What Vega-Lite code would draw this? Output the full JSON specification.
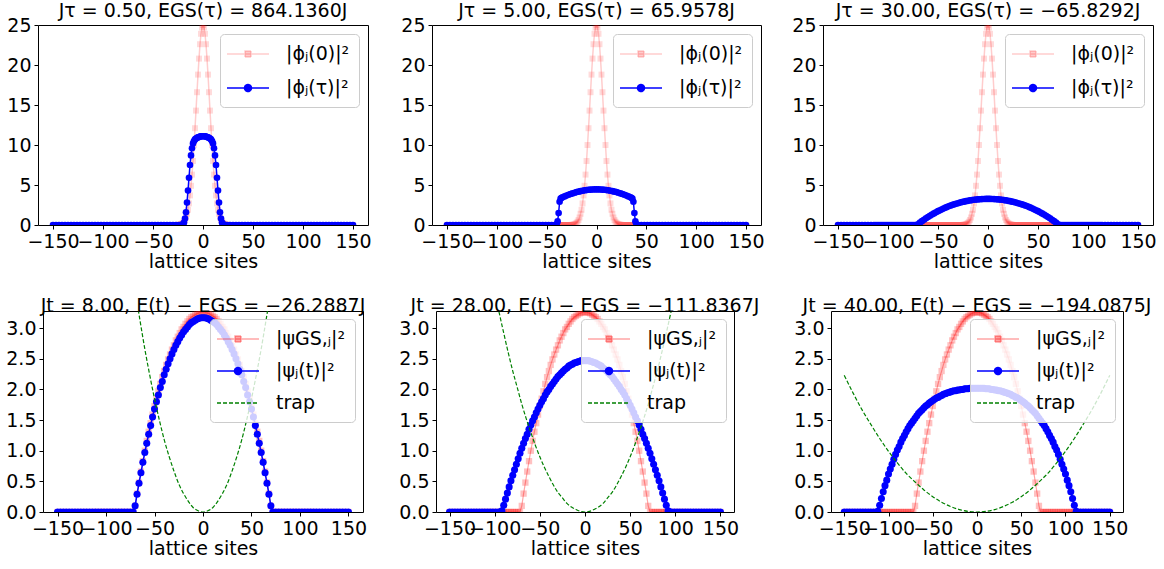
{
"$schema":"https://vega.github.io/schema/vega-lite/v6.json",
"padding":{"left":5,"top":1,"right":0,"bottom":0},
"background":"white",
"config":{
"font":"DejaVu Sans",
"view":{"stroke":"black","strokeWidth":1},
"axis":{"domain":false,"grid":false,"tickColor":"black","tickSize":4,"tickWidth":1,"labelFont":"DejaVu Sans","labelFontSize":19,"labelColor":"black","labelPadding":3,"labelOverlap":false,"labelFlush":false,"labelBound":false,"titleFont":"DejaVu Sans","titleFontSize":19,"titleFontWeight":"normal","titleColor":"black","titlePadding":1},
"title":{"font":"DejaVu Sans","fontSize":19,"fontWeight":"normal","color":"black","offset":-5,"frame":"group","anchor":"middle"}
},
"datasets":{
"phi0":[{"x":-150,"y":0},{"x":-145,"y":0},{"x":-140,"y":0},{"x":-135,"y":0},{"x":-130,"y":0},{"x":-125,"y":0},{"x":-120,"y":0},{"x":-115,"y":0},{"x":-110,"y":0},{"x":-105,"y":0},{"x":-100,"y":0},{"x":-95,"y":0},{"x":-90,"y":0},{"x":-85,"y":0},{"x":-80,"y":0},{"x":-75,"y":0},
{"x":-72,"y":0},{"x":-71,"y":0},{"x":-70,"y":0},{"x":-69,"y":0},{"x":-68,"y":0},{"x":-67,"y":0},{"x":-66,"y":0},{"x":-65,"y":0},{"x":-64,"y":0},{"x":-63,"y":0},{"x":-62,"y":0},{"x":-61,"y":0},{"x":-60,"y":0},{"x":-59,"y":0},{"x":-58,"y":0},{"x":-57,"y":0},{"x":-56,"y":0},{"x":-55,"y":0},{"x":-54,"y":0},{"x":-53,"y":0},{"x":-52,"y":0},{"x":-51,"y":0},{"x":-50,"y":0},{"x":-49,"y":0},{"x":-48,"y":0},{"x":-47,"y":0},{"x":-46,"y":0},{"x":-45,"y":0},{"x":-44,"y":0},{"x":-43,"y":0},{"x":-42,"y":0},{"x":-41,"y":0},{"x":-40,"y":0},{"x":-39,"y":0},{"x":-38,"y":0},{"x":-37,"y":0},{"x":-36,"y":0},{"x":-35,"y":0},{"x":-34,"y":0},{"x":-33,"y":0},{"x":-32,"y":0},{"x":-31,"y":0},{"x":-30,"y":0},{"x":-29,"y":0},{"x":-28,"y":0},{"x":-27,"y":0},{"x":-26,"y":0},
{"x":-25,"y":0.02},{"x":-24,"y":0.04},{"x":-23,"y":0.06},{"x":-22,"y":0.1},{"x":-21,"y":0.17},{"x":-20,"y":0.27},{"x":-19,"y":0.41},{"x":-18,"y":0.63},{"x":-17,"y":0.94},{"x":-16,"y":1.4},{"x":-15,"y":1.9},{"x":-14,"y":2.7},{"x":-13,"y":3.7},{"x":-12,"y":4.9},{"x":-11,"y":6.3},{"x":-10,"y":8},{"x":-9,"y":10},{"x":-8,"y":12.1},{"x":-7,"y":14.3},{"x":-6,"y":16.6},{"x":-5,"y":18.8},{"x":-4,"y":20.8},{"x":-3,"y":22.6},{"x":-2,"y":23.9},{"x":-1,"y":24.7},{"x":0,"y":25},
{"x":1,"y":24.7},{"x":2,"y":23.9},{"x":3,"y":22.6},{"x":4,"y":20.8},{"x":5,"y":18.8},{"x":6,"y":16.6},{"x":7,"y":14.3},{"x":8,"y":12.1},{"x":9,"y":10},{"x":10,"y":8},{"x":11,"y":6.3},{"x":12,"y":4.9},{"x":13,"y":3.7},{"x":14,"y":2.7},{"x":15,"y":1.9},{"x":16,"y":1.4},{"x":17,"y":0.94},{"x":18,"y":0.63},{"x":19,"y":0.41},{"x":20,"y":0.27},{"x":21,"y":0.17},{"x":22,"y":0.1},{"x":23,"y":0.06},{"x":24,"y":0.04},{"x":25,"y":0.02},
{"x":26,"y":0},{"x":27,"y":0},{"x":28,"y":0},{"x":29,"y":0},{"x":30,"y":0},{"x":31,"y":0},{"x":32,"y":0},{"x":33,"y":0},{"x":34,"y":0},{"x":35,"y":0},{"x":36,"y":0},{"x":37,"y":0},{"x":38,"y":0},{"x":39,"y":0},{"x":40,"y":0},{"x":41,"y":0},{"x":42,"y":0},{"x":43,"y":0},{"x":44,"y":0},{"x":45,"y":0},{"x":46,"y":0},{"x":47,"y":0},{"x":48,"y":0},{"x":49,"y":0},{"x":50,"y":0},{"x":51,"y":0},{"x":52,"y":0},{"x":53,"y":0},{"x":54,"y":0},{"x":55,"y":0},{"x":56,"y":0},{"x":57,"y":0},{"x":58,"y":0},{"x":59,"y":0},{"x":60,"y":0},{"x":61,"y":0},{"x":62,"y":0},{"x":63,"y":0},{"x":64,"y":0},{"x":65,"y":0},{"x":66,"y":0},{"x":67,"y":0},{"x":68,"y":0},{"x":69,"y":0},{"x":70,"y":0},{"x":71,"y":0},{"x":72,"y":0},
{"x":75,"y":0},{"x":80,"y":0},{"x":85,"y":0},{"x":90,"y":0},{"x":95,"y":0},{"x":100,"y":0},{"x":105,"y":0},{"x":110,"y":0},{"x":115,"y":0},{"x":120,"y":0},{"x":125,"y":0},{"x":130,"y":0},{"x":135,"y":0},{"x":140,"y":0},{"x":145,"y":0},{"x":150,"y":0}],
"gs":[{"x":-150,"y":0},{"x":-147,"y":0},{"x":-144,"y":0},{"x":-141,"y":0},{"x":-138,"y":0},{"x":-135,"y":0},{"x":-132,"y":0},{"x":-129,"y":0},{"x":-126,"y":0},{"x":-123,"y":0},{"x":-120,"y":0},{"x":-117,"y":0},
{"x":-114,"y":0},{"x":-112,"y":0},{"x":-110,"y":0},{"x":-108,"y":0},{"x":-106,"y":0},{"x":-104,"y":0},{"x":-102,"y":0},{"x":-100,"y":0},{"x":-98,"y":0},{"x":-96,"y":0},{"x":-94,"y":0},{"x":-92,"y":0},{"x":-90,"y":0},{"x":-88,"y":0},{"x":-86,"y":0},{"x":-84,"y":0},{"x":-82,"y":0},{"x":-80,"y":0},{"x":-78,"y":0},{"x":-76,"y":0},{"x":-74,"y":0},{"x":-72,"y":0},
{"x":-70,"y":0.1},{"x":-68,"y":0.3},{"x":-66,"y":0.48},{"x":-64,"y":0.66},{"x":-62,"y":0.83},{"x":-60,"y":1},{"x":-58,"y":1.16},{"x":-56,"y":1.31},{"x":-54,"y":1.45},{"x":-52,"y":1.59},{"x":-50,"y":1.73},{"x":-48,"y":1.85},{"x":-46,"y":1.97},{"x":-44,"y":2.09},{"x":-42,"y":2.2},{"x":-40,"y":2.3},{"x":-38,"y":2.4},{"x":-36,"y":2.49},{"x":-34,"y":2.57},{"x":-32,"y":2.65},{"x":-30,"y":2.72},{"x":-28,"y":2.8},{"x":-26,"y":2.86},{"x":-24,"y":2.92},{"x":-22,"y":2.98},{"x":-20,"y":3.02},{"x":-18,"y":3.07},{"x":-16,"y":3.11},{"x":-14,"y":3.15},{"x":-12,"y":3.18},{"x":-10,"y":3.2},{"x":-8,"y":3.22},{"x":-6,"y":3.24},{"x":-4,"y":3.25},{"x":-2,"y":3.26},{"x":0,"y":3.26},
{"x":2,"y":3.26},{"x":4,"y":3.25},{"x":6,"y":3.24},{"x":8,"y":3.22},{"x":10,"y":3.2},{"x":12,"y":3.18},{"x":14,"y":3.15},{"x":16,"y":3.11},{"x":18,"y":3.07},{"x":20,"y":3.02},{"x":22,"y":2.98},{"x":24,"y":2.92},{"x":26,"y":2.86},{"x":28,"y":2.8},{"x":30,"y":2.72},{"x":32,"y":2.65},{"x":34,"y":2.57},{"x":36,"y":2.49},{"x":38,"y":2.4},{"x":40,"y":2.3},{"x":42,"y":2.2},{"x":44,"y":2.09},{"x":46,"y":1.97},{"x":48,"y":1.85},{"x":50,"y":1.73},{"x":52,"y":1.59},{"x":54,"y":1.45},{"x":56,"y":1.31},{"x":58,"y":1.16},{"x":60,"y":1},{"x":62,"y":0.83},{"x":64,"y":0.66},{"x":66,"y":0.48},{"x":68,"y":0.3},{"x":70,"y":0.1},
{"x":72,"y":0},{"x":74,"y":0},{"x":76,"y":0},{"x":78,"y":0},{"x":80,"y":0},{"x":82,"y":0},{"x":84,"y":0},{"x":86,"y":0},{"x":88,"y":0},{"x":90,"y":0},{"x":92,"y":0},{"x":94,"y":0},{"x":96,"y":0},{"x":98,"y":0},{"x":100,"y":0},{"x":102,"y":0},{"x":104,"y":0},{"x":106,"y":0},{"x":108,"y":0},{"x":110,"y":0},{"x":112,"y":0},{"x":114,"y":0},
{"x":117,"y":0},{"x":120,"y":0},{"x":123,"y":0},{"x":126,"y":0},{"x":129,"y":0},{"x":132,"y":0},{"x":135,"y":0},{"x":138,"y":0},{"x":141,"y":0},{"x":144,"y":0},{"x":147,"y":0},{"x":150,"y":0}],
"b1":[{"x":-150,"y":0},{"x":-147,"y":0},{"x":-144,"y":0},{"x":-141,"y":0},{"x":-138,"y":0},{"x":-135,"y":0},{"x":-132,"y":0},{"x":-129,"y":0},{"x":-126,"y":0},{"x":-123,"y":0},{"x":-120,"y":0},{"x":-117,"y":0},{"x":-114,"y":0},{"x":-111,"y":0},{"x":-108,"y":0},{"x":-105,"y":0},{"x":-102,"y":0},{"x":-99,"y":0},{"x":-96,"y":0},{"x":-93,"y":0},{"x":-90,"y":0},{"x":-87,"y":0},{"x":-84,"y":0},{"x":-81,"y":0},{"x":-78,"y":0},{"x":-75,"y":0},{"x":-72,"y":0},{"x":-69,"y":0},{"x":-66,"y":0},{"x":-63,"y":0},{"x":-60,"y":0},{"x":-57,"y":0},{"x":-54,"y":0},{"x":-51,"y":0},{"x":-48,"y":0},{"x":-45,"y":0},{"x":-42,"y":0},{"x":-39,"y":0},{"x":-36,"y":0},{"x":-33,"y":0},{"x":-30,"y":0},{"x":-27,"y":0},{"x":-24,"y":0},
{"x":-22,"y":0},{"x":-21,"y":0.02},{"x":-20,"y":0.1},{"x":-19,"y":0.3},{"x":-18,"y":0.8},{"x":-17,"y":1.6},{"x":-16,"y":2.8},{"x":-15,"y":4.3},{"x":-14,"y":5.9},{"x":-13,"y":7.5},{"x":-12,"y":8.7},{"x":-11,"y":9.6},{"x":-10,"y":10.2},{"x":-9,"y":10.5},{"x":-8,"y":10.7},{"x":-7,"y":10.8},{"x":-6,"y":10.9},{"x":-5,"y":10.95},{"x":-4,"y":11},{"x":-3,"y":11.05},{"x":-2,"y":11.08},{"x":-1,"y":11.1},{"x":0,"y":11.1},
{"x":1,"y":11.1},{"x":2,"y":11.08},{"x":3,"y":11.05},{"x":4,"y":11},{"x":5,"y":10.95},{"x":6,"y":10.9},{"x":7,"y":10.8},{"x":8,"y":10.7},{"x":9,"y":10.5},{"x":10,"y":10.2},{"x":11,"y":9.6},{"x":12,"y":8.7},{"x":13,"y":7.5},{"x":14,"y":5.9},{"x":15,"y":4.3},{"x":16,"y":2.8},{"x":17,"y":1.6},{"x":18,"y":0.8},{"x":19,"y":0.3},{"x":20,"y":0.1},{"x":21,"y":0.02},{"x":22,"y":0},
{"x":24,"y":0},{"x":27,"y":0},{"x":30,"y":0},{"x":33,"y":0},{"x":36,"y":0},{"x":39,"y":0},{"x":42,"y":0},{"x":45,"y":0},{"x":48,"y":0},{"x":51,"y":0},{"x":54,"y":0},{"x":57,"y":0},{"x":60,"y":0},{"x":63,"y":0},{"x":66,"y":0},{"x":69,"y":0},{"x":72,"y":0},{"x":75,"y":0},{"x":78,"y":0},{"x":81,"y":0},{"x":84,"y":0},{"x":87,"y":0},{"x":90,"y":0},{"x":93,"y":0},{"x":96,"y":0},{"x":99,"y":0},{"x":102,"y":0},{"x":105,"y":0},{"x":108,"y":0},{"x":111,"y":0},{"x":114,"y":0},{"x":117,"y":0},{"x":120,"y":0},{"x":123,"y":0},{"x":126,"y":0},{"x":129,"y":0},{"x":132,"y":0},{"x":135,"y":0},{"x":138,"y":0},{"x":141,"y":0},{"x":144,"y":0},{"x":147,"y":0},{"x":150,"y":0}],
"b2":[{"x":-150,"y":0},{"x":-147,"y":0},{"x":-144,"y":0},{"x":-141,"y":0},{"x":-138,"y":0},{"x":-135,"y":0},{"x":-132,"y":0},{"x":-129,"y":0},{"x":-126,"y":0},{"x":-123,"y":0},{"x":-120,"y":0},{"x":-117,"y":0},{"x":-114,"y":0},{"x":-111,"y":0},{"x":-108,"y":0},{"x":-105,"y":0},{"x":-102,"y":0},{"x":-99,"y":0},{"x":-96,"y":0},{"x":-93,"y":0},{"x":-90,"y":0},{"x":-87,"y":0},{"x":-84,"y":0},{"x":-81,"y":0},{"x":-78,"y":0},{"x":-75,"y":0},{"x":-72,"y":0},{"x":-69,"y":0},{"x":-66,"y":0},{"x":-63,"y":0},{"x":-60,"y":0},{"x":-57,"y":0},{"x":-54,"y":0},{"x":-51,"y":0},{"x":-48,"y":0},{"x":-45,"y":0},
{"x":-42,"y":0},{"x":-41,"y":0},{"x":-40,"y":0.08},{"x":-39,"y":0.45},{"x":-38,"y":1.5},{"x":-37,"y":2.9},{"x":-36,"y":3.3},{"x":-35,"y":3.4},{"x":-34,"y":3.46},{"x":-32,"y":3.57},{"x":-30,"y":3.68},{"x":-28,"y":3.78},{"x":-26,"y":3.87},{"x":-24,"y":3.95},{"x":-22,"y":4.03},{"x":-20,"y":4.11},{"x":-18,"y":4.17},{"x":-16,"y":4.23},{"x":-14,"y":4.28},{"x":-12,"y":4.33},{"x":-10,"y":4.36},{"x":-8,"y":4.4},{"x":-6,"y":4.42},{"x":-4,"y":4.44},{"x":-2,"y":4.45},{"x":0,"y":4.45},
{"x":2,"y":4.45},{"x":4,"y":4.44},{"x":6,"y":4.42},{"x":8,"y":4.4},{"x":10,"y":4.36},{"x":12,"y":4.33},{"x":14,"y":4.28},{"x":16,"y":4.23},{"x":18,"y":4.17},{"x":20,"y":4.11},{"x":22,"y":4.03},{"x":24,"y":3.95},{"x":26,"y":3.87},{"x":28,"y":3.78},{"x":30,"y":3.68},{"x":32,"y":3.57},{"x":34,"y":3.46},{"x":35,"y":3.4},{"x":36,"y":3.3},{"x":37,"y":2.9},{"x":38,"y":1.5},{"x":39,"y":0.45},{"x":40,"y":0.08},{"x":41,"y":0},{"x":42,"y":0},
{"x":45,"y":0},{"x":48,"y":0},{"x":51,"y":0},{"x":54,"y":0},{"x":57,"y":0},{"x":60,"y":0},{"x":63,"y":0},{"x":66,"y":0},{"x":69,"y":0},{"x":72,"y":0},{"x":75,"y":0},{"x":78,"y":0},{"x":81,"y":0},{"x":84,"y":0},{"x":87,"y":0},{"x":90,"y":0},{"x":93,"y":0},{"x":96,"y":0},{"x":99,"y":0},{"x":102,"y":0},{"x":105,"y":0},{"x":108,"y":0},{"x":111,"y":0},{"x":114,"y":0},{"x":117,"y":0},{"x":120,"y":0},{"x":123,"y":0},{"x":126,"y":0},{"x":129,"y":0},{"x":132,"y":0},{"x":135,"y":0},{"x":138,"y":0},{"x":141,"y":0},{"x":144,"y":0},{"x":147,"y":0},{"x":150,"y":0}],
"b4":[{"x":-150,"y":0},{"x":-147,"y":0},{"x":-144,"y":0},{"x":-141,"y":0},{"x":-138,"y":0},{"x":-135,"y":0},{"x":-132,"y":0},{"x":-129,"y":0},{"x":-126,"y":0},{"x":-123,"y":0},{"x":-120,"y":0},{"x":-117,"y":0},{"x":-114,"y":0},{"x":-111,"y":0},{"x":-108,"y":0},{"x":-105,"y":0},{"x":-102,"y":0},{"x":-99,"y":0},{"x":-96,"y":0},{"x":-93,"y":0},{"x":-90,"y":0},{"x":-87,"y":0},{"x":-84,"y":0},{"x":-81,"y":0},{"x":-78,"y":0},{"x":-75,"y":0},
{"x":-72,"y":0},{"x":-70,"y":0.1},{"x":-68,"y":0.29},{"x":-66,"y":0.47},{"x":-64,"y":0.64},{"x":-62,"y":0.81},{"x":-60,"y":0.97},{"x":-58,"y":1.12},{"x":-56,"y":1.27},{"x":-54,"y":1.41},{"x":-52,"y":1.55},{"x":-50,"y":1.68},{"x":-48,"y":1.8},{"x":-46,"y":1.91},{"x":-44,"y":2.03},{"x":-42,"y":2.13},{"x":-40,"y":2.24},{"x":-38,"y":2.33},{"x":-36,"y":2.42},{"x":-34,"y":2.5},{"x":-32,"y":2.58},{"x":-30,"y":2.65},{"x":-28,"y":2.72},{"x":-26,"y":2.78},{"x":-24,"y":2.84},{"x":-22,"y":2.89},{"x":-20,"y":2.94},{"x":-18,"y":2.98},{"x":-16,"y":3.02},{"x":-14,"y":3.06},{"x":-12,"y":3.09},{"x":-10,"y":3.11},{"x":-8,"y":3.13},{"x":-6,"y":3.15},{"x":-4,"y":3.16},{"x":-2,"y":3.17},{"x":0,"y":3.17},
{"x":2,"y":3.17},{"x":4,"y":3.16},{"x":6,"y":3.15},{"x":8,"y":3.13},{"x":10,"y":3.11},{"x":12,"y":3.09},{"x":14,"y":3.06},{"x":16,"y":3.02},{"x":18,"y":2.98},{"x":20,"y":2.94},{"x":22,"y":2.89},{"x":24,"y":2.84},{"x":26,"y":2.78},{"x":28,"y":2.72},{"x":30,"y":2.65},{"x":32,"y":2.58},{"x":34,"y":2.5},{"x":36,"y":2.42},{"x":38,"y":2.33},{"x":40,"y":2.24},{"x":42,"y":2.13},{"x":44,"y":2.03},{"x":46,"y":1.91},{"x":48,"y":1.8},{"x":50,"y":1.68},{"x":52,"y":1.55},{"x":54,"y":1.41},{"x":56,"y":1.27},{"x":58,"y":1.12},{"x":60,"y":0.97},{"x":62,"y":0.81},{"x":64,"y":0.64},{"x":66,"y":0.47},{"x":68,"y":0.29},{"x":70,"y":0.1},{"x":72,"y":0},
{"x":75,"y":0},{"x":78,"y":0},{"x":81,"y":0},{"x":84,"y":0},{"x":87,"y":0},{"x":90,"y":0},{"x":93,"y":0},{"x":96,"y":0},{"x":99,"y":0},{"x":102,"y":0},{"x":105,"y":0},{"x":108,"y":0},{"x":111,"y":0},{"x":114,"y":0},{"x":117,"y":0},{"x":120,"y":0},{"x":123,"y":0},{"x":126,"y":0},{"x":129,"y":0},{"x":132,"y":0},{"x":135,"y":0},{"x":138,"y":0},{"x":141,"y":0},{"x":144,"y":0},{"x":147,"y":0},{"x":150,"y":0}],
"b5":[{"x":-150,"y":0},{"x":-147,"y":0},{"x":-144,"y":0},{"x":-141,"y":0},{"x":-138,"y":0},{"x":-135,"y":0},{"x":-132,"y":0},{"x":-129,"y":0},{"x":-126,"y":0},{"x":-123,"y":0},{"x":-120,"y":0},{"x":-117,"y":0},{"x":-114,"y":0},{"x":-111,"y":0},{"x":-108,"y":0},{"x":-105,"y":0},{"x":-102,"y":0},{"x":-99,"y":0},{"x":-96,"y":0},
{"x":-94,"y":0},{"x":-92,"y":0.02},{"x":-90,"y":0.11},{"x":-88,"y":0.21},{"x":-86,"y":0.31},{"x":-84,"y":0.41},{"x":-82,"y":0.51},{"x":-80,"y":0.6},{"x":-78,"y":0.69},{"x":-76,"y":0.78},{"x":-74,"y":0.87},{"x":-72,"y":0.96},{"x":-70,"y":1.04},{"x":-68,"y":1.12},{"x":-66,"y":1.2},{"x":-64,"y":1.27},{"x":-62,"y":1.35},{"x":-60,"y":1.42},{"x":-58,"y":1.49},{"x":-56,"y":1.55},{"x":-54,"y":1.62},{"x":-52,"y":1.68},{"x":-50,"y":1.74},{"x":-48,"y":1.8},{"x":-46,"y":1.85},{"x":-44,"y":1.91},{"x":-42,"y":1.96},{"x":-40,"y":2},{"x":-38,"y":2.05},{"x":-36,"y":2.09},{"x":-34,"y":2.13},{"x":-32,"y":2.17},{"x":-30,"y":2.21},{"x":-28,"y":2.24},{"x":-26,"y":2.27},{"x":-24,"y":2.3},{"x":-22,"y":2.33},{"x":-20,"y":2.35},{"x":-18,"y":2.38},{"x":-16,"y":2.4},{"x":-14,"y":2.41},{"x":-12,"y":2.43},{"x":-10,"y":2.44},{"x":-8,"y":2.45},{"x":-6,"y":2.46},{"x":-4,"y":2.47},{"x":-2,"y":2.47},{"x":0,"y":2.47},
{"x":2,"y":2.47},{"x":4,"y":2.47},{"x":6,"y":2.46},{"x":8,"y":2.45},{"x":10,"y":2.44},{"x":12,"y":2.43},{"x":14,"y":2.41},{"x":16,"y":2.4},{"x":18,"y":2.38},{"x":20,"y":2.35},{"x":22,"y":2.33},{"x":24,"y":2.3},{"x":26,"y":2.27},{"x":28,"y":2.24},{"x":30,"y":2.21},{"x":32,"y":2.17},{"x":34,"y":2.13},{"x":36,"y":2.09},{"x":38,"y":2.05},{"x":40,"y":2},{"x":42,"y":1.96},{"x":44,"y":1.91},{"x":46,"y":1.85},{"x":48,"y":1.8},{"x":50,"y":1.74},{"x":52,"y":1.68},{"x":54,"y":1.62},{"x":56,"y":1.55},{"x":58,"y":1.49},{"x":60,"y":1.42},{"x":62,"y":1.35},{"x":64,"y":1.27},{"x":66,"y":1.2},{"x":68,"y":1.12},{"x":70,"y":1.04},{"x":72,"y":0.96},{"x":74,"y":0.87},{"x":76,"y":0.78},{"x":78,"y":0.69},{"x":80,"y":0.6},{"x":82,"y":0.51},{"x":84,"y":0.41},{"x":86,"y":0.31},{"x":88,"y":0.21},{"x":90,"y":0.11},{"x":92,"y":0.02},{"x":94,"y":0},
{"x":96,"y":0},{"x":99,"y":0},{"x":102,"y":0},{"x":105,"y":0},{"x":108,"y":0},{"x":111,"y":0},{"x":114,"y":0},{"x":117,"y":0},{"x":120,"y":0},{"x":123,"y":0},{"x":126,"y":0},{"x":129,"y":0},{"x":132,"y":0},{"x":135,"y":0},{"x":138,"y":0},{"x":141,"y":0},{"x":144,"y":0},{"x":147,"y":0},{"x":150,"y":0}],
"b6":[{"x":-150,"y":0},{"x":-147,"y":0},{"x":-144,"y":0},{"x":-141,"y":0},{"x":-138,"y":0},{"x":-135,"y":0},{"x":-132,"y":0},{"x":-129,"y":0},{"x":-126,"y":0},{"x":-123,"y":0},{"x":-120,"y":0},{"x":-117,"y":0},
{"x":-114,"y":0},{"x":-112,"y":0.01},{"x":-110,"y":0.11},{"x":-108,"y":0.22},{"x":-106,"y":0.33},{"x":-104,"y":0.43},{"x":-102,"y":0.52},{"x":-100,"y":0.62},{"x":-98,"y":0.7},{"x":-96,"y":0.78},{"x":-94,"y":0.86},{"x":-92,"y":0.94},{"x":-90,"y":1.01},{"x":-88,"y":1.07},{"x":-86,"y":1.14},{"x":-84,"y":1.2},{"x":-82,"y":1.25},{"x":-80,"y":1.31},{"x":-78,"y":1.36},{"x":-76,"y":1.41},{"x":-74,"y":1.45},{"x":-72,"y":1.49},{"x":-70,"y":1.53},{"x":-68,"y":1.57},{"x":-66,"y":1.61},{"x":-64,"y":1.64},{"x":-62,"y":1.67},{"x":-60,"y":1.7},{"x":-58,"y":1.73},{"x":-56,"y":1.75},{"x":-54,"y":1.78},{"x":-52,"y":1.8},{"x":-50,"y":1.82},{"x":-48,"y":1.84},{"x":-46,"y":1.86},{"x":-44,"y":1.87},{"x":-42,"y":1.89},{"x":-40,"y":1.9},{"x":-38,"y":1.92},{"x":-36,"y":1.93},{"x":-34,"y":1.94},{"x":-32,"y":1.95},{"x":-30,"y":1.96},{"x":-28,"y":1.97},{"x":-26,"y":1.98},{"x":-24,"y":1.98},{"x":-22,"y":1.99},{"x":-20,"y":1.99},{"x":-18,"y":2},{"x":-16,"y":2},{"x":-14,"y":2.01},{"x":-12,"y":2.01},{"x":-10,"y":2.01},{"x":-8,"y":2.02},{"x":-6,"y":2.02},{"x":-4,"y":2.02},{"x":-2,"y":2.02},{"x":0,"y":2.02},
{"x":2,"y":2.02},{"x":4,"y":2.02},{"x":6,"y":2.02},{"x":8,"y":2.02},{"x":10,"y":2.01},{"x":12,"y":2.01},{"x":14,"y":2.01},{"x":16,"y":2},{"x":18,"y":2},{"x":20,"y":1.99},{"x":22,"y":1.99},{"x":24,"y":1.98},{"x":26,"y":1.98},{"x":28,"y":1.97},{"x":30,"y":1.96},{"x":32,"y":1.95},{"x":34,"y":1.94},{"x":36,"y":1.93},{"x":38,"y":1.92},{"x":40,"y":1.9},{"x":42,"y":1.89},{"x":44,"y":1.87},{"x":46,"y":1.86},{"x":48,"y":1.84},{"x":50,"y":1.82},{"x":52,"y":1.8},{"x":54,"y":1.78},{"x":56,"y":1.75},{"x":58,"y":1.73},{"x":60,"y":1.7},{"x":62,"y":1.67},{"x":64,"y":1.64},{"x":66,"y":1.61},{"x":68,"y":1.57},{"x":70,"y":1.53},{"x":72,"y":1.49},{"x":74,"y":1.45},{"x":76,"y":1.41},{"x":78,"y":1.36},{"x":80,"y":1.31},{"x":82,"y":1.25},{"x":84,"y":1.2},{"x":86,"y":1.14},{"x":88,"y":1.07},{"x":90,"y":1.01},{"x":92,"y":0.94},{"x":94,"y":0.86},{"x":96,"y":0.78},{"x":98,"y":0.7},{"x":100,"y":0.62},{"x":102,"y":0.52},{"x":104,"y":0.43},{"x":106,"y":0.33},{"x":108,"y":0.22},{"x":110,"y":0.11},{"x":112,"y":0.01},{"x":114,"y":0},
{"x":117,"y":0},{"x":120,"y":0},{"x":123,"y":0},{"x":126,"y":0},{"x":129,"y":0},{"x":132,"y":0},{"x":135,"y":0},{"x":138,"y":0},{"x":141,"y":0},{"x":144,"y":0},{"x":147,"y":0},{"x":150,"y":0}],
"t4":[{"x":-150,"y":16.65},{"x":-100,"y":7.4},{"x":-75,"y":4.16},{"x":-70,"y":3.63},{"x":-65,"y":3.13},{"x":-60,"y":2.66},{"x":-55,"y":2.24},{"x":-50,"y":1.85},{"x":-45,"y":1.5},{"x":-40,"y":1.18},{"x":-35,"y":0.91},{"x":-30,"y":0.67},{"x":-25,"y":0.46},{"x":-20,"y":0.3},{"x":-15,"y":0.17},{"x":-10,"y":0.07},{"x":-5,"y":0.02},{"x":0,"y":0},{"x":5,"y":0.02},{"x":10,"y":0.07},{"x":15,"y":0.17},{"x":20,"y":0.3},{"x":25,"y":0.46},{"x":30,"y":0.67},{"x":35,"y":0.91},{"x":40,"y":1.18},{"x":45,"y":1.5},{"x":50,"y":1.85},{"x":55,"y":2.24},{"x":60,"y":2.66},{"x":65,"y":3.13},{"x":70,"y":3.63},{"x":75,"y":4.16},{"x":100,"y":7.4},{"x":150,"y":16.65}],
"t5":[{"x":-150,"y":8.1},{"x":-100,"y":3.6},{"x":-95,"y":3.25},{"x":-90,"y":2.92},{"x":-85,"y":2.6},{"x":-80,"y":2.3},{"x":-75,"y":2.03},{"x":-70,"y":1.76},{"x":-65,"y":1.52},{"x":-60,"y":1.3},{"x":-55,"y":1.09},{"x":-50,"y":0.9},{"x":-45,"y":0.73},{"x":-40,"y":0.58},{"x":-35,"y":0.44},{"x":-30,"y":0.32},{"x":-25,"y":0.23},{"x":-20,"y":0.14},{"x":-15,"y":0.08},{"x":-10,"y":0.04},{"x":-5,"y":0.01},{"x":0,"y":0},{"x":5,"y":0.01},{"x":10,"y":0.04},{"x":15,"y":0.08},{"x":20,"y":0.14},{"x":25,"y":0.23},{"x":30,"y":0.32},{"x":35,"y":0.44},{"x":40,"y":0.58},{"x":45,"y":0.73},{"x":50,"y":0.9},{"x":55,"y":1.09},{"x":60,"y":1.3},{"x":65,"y":1.52},{"x":70,"y":1.76},{"x":75,"y":2.03},{"x":80,"y":2.3},{"x":85,"y":2.6},{"x":90,"y":2.92},{"x":95,"y":3.25},{"x":100,"y":3.6},{"x":150,"y":8.1}],
"t6":[{"x":-150,"y":2.23},{"x":-140,"y":1.94},{"x":-130,"y":1.67},{"x":-120,"y":1.43},{"x":-110,"y":1.2},{"x":-100,"y":0.99},{"x":-90,"y":0.8},{"x":-80,"y":0.63},{"x":-70,"y":0.49},{"x":-60,"y":0.36},{"x":-50,"y":0.25},{"x":-40,"y":0.16},{"x":-30,"y":0.09},{"x":-20,"y":0.04},{"x":-10,"y":0.01},{"x":0,"y":0},{"x":10,"y":0.01},{"x":20,"y":0.04},{"x":30,"y":0.09},{"x":40,"y":0.16},{"x":50,"y":0.25},{"x":60,"y":0.36},{"x":70,"y":0.49},{"x":80,"y":0.63},{"x":90,"y":0.8},{"x":100,"y":0.99},{"x":110,"y":1.2},{"x":120,"y":1.43},{"x":130,"y":1.67},{"x":140,"y":1.94},{"x":150,"y":2.23}]
},
"spacing":24,
"resolve":{"scale":{"color":"independent","x":"independent","y":"independent"},"legend":{"color":"independent"}},
"vconcat":[
{"hconcat":[
{"width":1,"height":1,"data":{"values":[]},"mark":"point","view":{"stroke":null}},
{"width":330,"height":200,"title":"Jτ = 0.50,  EGS(τ) = 864.1360J",
"encoding":{"x":{"field":"x","type":"quantitative","scale":{"domain":[-165,165],"nice":false,"zero":false},"axis":{"values":[-150,-100,-50,0,50,100,150],"title":"lattice sites"}},"y":{"field":"y","type":"quantitative","scale":{"domain":[0,25],"nice":false,"zero":false},"axis":{"values":[0,5,10,15,20,25],"format":"d","title":null}}},
"layer":[
{"data":{"name":"phi0"},"mark":{"type":"line","clip":true,"strokeWidth":1.5},"encoding":{"color":{"datum":"a","type":"nominal","scale":{"domain":["a","b"],"range":["rgba(255,0,0,0.2)","blue"]},"legend":{"title":null,"orient":"top-right","offset":9,"fillColor":"rgba(255,255,255,0.8)","strokeColor":"#cccccc","cornerRadius":4,"padding":9,"rowPadding":13,"symbolSize":400,"symbolStrokeWidth":1.5,"labelFont":"DejaVu Sans","labelFontSize":19,"labelOffset":35,"labelColor":"black","labelExpr":"datum.value==='a' ? '|ϕⱼ(0)|²' : '|ϕⱼ(τ)|²'","encode":{"symbols":{"update":{"shape":{"signal":"datum.value==='a' ? 'M-1.3,0H2.9M0.5,-0.3H1.1V0.3H0.5Z' : datum.value==='b' ? 'M-1.3,0H2.9M1.15,0A0.35,0.35,0,1,1,0.45,0A0.35,0.35,0,1,1,1.15,0Z' : 'M-1.3,0H2.9'"},"strokeDash":{"signal":"datum.value==='c' ? [4,2] : [1,0]"},"opacity":{"value":1}}}}}}}},
{"data":{"name":"phi0"},"mark":{"type":"square","clip":true,"size":36,"filled":true},"encoding":{"color":{"datum":"a","type":"nominal"}}},
{"data":{"name":"b1"},"mark":{"type":"line","clip":true,"strokeWidth":1.5},"encoding":{"color":{"datum":"b","type":"nominal"}}},
{"data":{"name":"b1"},"mark":{"type":"circle","clip":true,"size":44,"opacity":1},"encoding":{"color":{"datum":"b","type":"nominal"}}}
]},
{"width":64,"height":1,"data":{"values":[]},"mark":"point","view":{"stroke":null}},
{"width":329,"height":200,"title":"Jτ = 5.00,  EGS(τ) = 65.9578J",
"encoding":{"x":{"field":"x","type":"quantitative","scale":{"domain":[-165,165],"nice":false,"zero":false},"axis":{"values":[-150,-100,-50,0,50,100,150],"title":"lattice sites"}},"y":{"field":"y","type":"quantitative","scale":{"domain":[0,25],"nice":false,"zero":false},"axis":{"values":[0,5,10,15,20,25],"format":"d","title":null}}},
"layer":[
{"data":{"name":"phi0"},"mark":{"type":"line","clip":true,"strokeWidth":1.5},"encoding":{"color":{"datum":"a","type":"nominal","scale":{"domain":["a","b"],"range":["rgba(255,0,0,0.2)","blue"]},"legend":{"title":null,"orient":"top-right","offset":9,"fillColor":"rgba(255,255,255,0.8)","strokeColor":"#cccccc","cornerRadius":4,"padding":9,"rowPadding":13,"symbolSize":400,"symbolStrokeWidth":1.5,"labelFont":"DejaVu Sans","labelFontSize":19,"labelOffset":35,"labelColor":"black","labelExpr":"datum.value==='a' ? '|ϕⱼ(0)|²' : '|ϕⱼ(τ)|²'","encode":{"symbols":{"update":{"shape":{"signal":"datum.value==='a' ? 'M-1.3,0H2.9M0.5,-0.3H1.1V0.3H0.5Z' : datum.value==='b' ? 'M-1.3,0H2.9M1.15,0A0.35,0.35,0,1,1,0.45,0A0.35,0.35,0,1,1,1.15,0Z' : 'M-1.3,0H2.9'"},"strokeDash":{"signal":"datum.value==='c' ? [4,2] : [1,0]"},"opacity":{"value":1}}}}}}}},
{"data":{"name":"phi0"},"mark":{"type":"square","clip":true,"size":36,"filled":true},"encoding":{"color":{"datum":"a","type":"nominal"}}},
{"data":{"name":"b2"},"mark":{"type":"line","clip":true,"strokeWidth":1.5},"encoding":{"color":{"datum":"b","type":"nominal"}}},
{"data":{"name":"b2"},"mark":{"type":"circle","clip":true,"size":44,"opacity":1},"encoding":{"color":{"datum":"b","type":"nominal"}}}
]},
{"width":62,"height":1,"data":{"values":[]},"mark":"point","view":{"stroke":null}},
{"width":330,"height":200,"title":"Jτ = 30.00,  EGS(τ) = −65.8292J",
"encoding":{"x":{"field":"x","type":"quantitative","scale":{"domain":[-165,165],"nice":false,"zero":false},"axis":{"values":[-150,-100,-50,0,50,100,150],"title":"lattice sites"}},"y":{"field":"y","type":"quantitative","scale":{"domain":[0,25],"nice":false,"zero":false},"axis":{"values":[0,5,10,15,20,25],"format":"d","title":null}}},
"layer":[
{"data":{"name":"phi0"},"mark":{"type":"line","clip":true,"strokeWidth":1.5},"encoding":{"color":{"datum":"a","type":"nominal","scale":{"domain":["a","b"],"range":["rgba(255,0,0,0.2)","blue"]},"legend":{"title":null,"orient":"top-right","offset":9,"fillColor":"rgba(255,255,255,0.8)","strokeColor":"#cccccc","cornerRadius":4,"padding":9,"rowPadding":13,"symbolSize":400,"symbolStrokeWidth":1.5,"labelFont":"DejaVu Sans","labelFontSize":19,"labelOffset":35,"labelColor":"black","labelExpr":"datum.value==='a' ? '|ϕⱼ(0)|²' : '|ϕⱼ(τ)|²'","encode":{"symbols":{"update":{"shape":{"signal":"datum.value==='a' ? 'M-1.3,0H2.9M0.5,-0.3H1.1V0.3H0.5Z' : datum.value==='b' ? 'M-1.3,0H2.9M1.15,0A0.35,0.35,0,1,1,0.45,0A0.35,0.35,0,1,1,1.15,0Z' : 'M-1.3,0H2.9'"},"strokeDash":{"signal":"datum.value==='c' ? [4,2] : [1,0]"},"opacity":{"value":1}}}}}}}},
{"data":{"name":"phi0"},"mark":{"type":"square","clip":true,"size":36,"filled":true},"encoding":{"color":{"datum":"a","type":"nominal"}}},
{"data":{"name":"gs"},"mark":{"type":"line","clip":true,"strokeWidth":1.5},"encoding":{"color":{"datum":"b","type":"nominal"}}},
{"data":{"name":"gs"},"mark":{"type":"circle","clip":true,"size":44,"opacity":1},"encoding":{"color":{"datum":"b","type":"nominal"}}}
]}
],"spacing":0,"bounds":"flush","resolve":{"scale":{"color":"independent","x":"independent","y":"independent"},"legend":{"color":"independent"}}},
{"hconcat":[
{"width":6,"height":1,"data":{"values":[]},"mark":"point","view":{"stroke":null}},
{"width":320,"height":201,"title":"Jt = 8.00,  E(t) − EGS = −26.2887J",
"encoding":{"x":{"field":"x","type":"quantitative","scale":{"domain":[-165,165],"nice":false,"zero":false},"axis":{"values":[-150,-100,-50,0,50,100,150],"title":"lattice sites"}},"y":{"field":"y","type":"quantitative","scale":{"domain":[0,3.28],"nice":false,"zero":false},"axis":{"values":[0,0.5,1,1.5,2,2.5,3],"format":".1f","title":null}}},
"layer":[
{"data":{"name":"gs"},"mark":{"type":"line","clip":true,"strokeWidth":1.2},"encoding":{"color":{"datum":"a","type":"nominal","scale":{"domain":["a","b","c"],"range":["rgba(255,0,0,0.35)","blue","green"]},"legend":{"title":null,"orient":"top-right","offset":8,"fillColor":"rgba(255,255,255,0.8)","strokeColor":"#cccccc","cornerRadius":4,"padding":9,"rowPadding":11,"symbolSize":400,"symbolStrokeWidth":1.5,"labelFont":"DejaVu Sans","labelFontSize":19,"labelOffset":35,"labelColor":"black","labelExpr":"datum.value==='a' ? '|ψGS,ⱼ|²' : datum.value==='b' ? '|ψⱼ(t)|²' : 'trap'","encode":{"symbols":{"update":{"shape":{"signal":"datum.value==='a' ? 'M-1.3,0H2.9M0.5,-0.3H1.1V0.3H0.5Z' : datum.value==='b' ? 'M-1.3,0H2.9M1.15,0A0.35,0.35,0,1,1,0.45,0A0.35,0.35,0,1,1,1.15,0Z' : 'M-1.3,0H2.9'"},"strokeDash":{"signal":"datum.value==='c' ? [4,2] : [1,0]"},"opacity":{"value":1}}}}}}}},
{"data":{"name":"gs"},"mark":{"type":"square","clip":true,"size":40,"filled":true},"encoding":{"color":{"datum":"a","type":"nominal"}}},
{"data":{"name":"b4"},"mark":{"type":"line","clip":true,"strokeWidth":1.5},"encoding":{"color":{"datum":"b","type":"nominal"}}},
{"data":{"name":"b4"},"mark":{"type":"circle","clip":true,"size":50,"opacity":1},"encoding":{"color":{"datum":"b","type":"nominal"}}},
{"data":{"name":"t4"},"mark":{"type":"line","clip":true,"strokeWidth":1.2,"strokeDash":[4,2],"interpolate":"monotone"},"encoding":{"color":{"datum":"c","type":"nominal"}}}
]},
{"width":73,"height":1,"data":{"values":[]},"mark":"point","view":{"stroke":null}},
{"width":298,"height":201,"title":"Jt = 28.00,  E(t) − EGS = −111.8367J",
"encoding":{"x":{"field":"x","type":"quantitative","scale":{"domain":[-165,165],"nice":false,"zero":false},"axis":{"values":[-150,-100,-50,0,50,100,150],"title":"lattice sites"}},"y":{"field":"y","type":"quantitative","scale":{"domain":[0,3.28],"nice":false,"zero":false},"axis":{"values":[0,0.5,1,1.5,2,2.5,3],"format":".1f","title":null}}},
"layer":[
{"data":{"name":"gs"},"mark":{"type":"line","clip":true,"strokeWidth":1.2},"encoding":{"color":{"datum":"a","type":"nominal","scale":{"domain":["a","b","c"],"range":["rgba(255,0,0,0.35)","blue","green"]},"legend":{"title":null,"orient":"top-right","offset":8,"fillColor":"rgba(255,255,255,0.8)","strokeColor":"#cccccc","cornerRadius":4,"padding":9,"rowPadding":11,"symbolSize":400,"symbolStrokeWidth":1.5,"labelFont":"DejaVu Sans","labelFontSize":19,"labelOffset":35,"labelColor":"black","labelExpr":"datum.value==='a' ? '|ψGS,ⱼ|²' : datum.value==='b' ? '|ψⱼ(t)|²' : 'trap'","encode":{"symbols":{"update":{"shape":{"signal":"datum.value==='a' ? 'M-1.3,0H2.9M0.5,-0.3H1.1V0.3H0.5Z' : datum.value==='b' ? 'M-1.3,0H2.9M1.15,0A0.35,0.35,0,1,1,0.45,0A0.35,0.35,0,1,1,1.15,0Z' : 'M-1.3,0H2.9'"},"strokeDash":{"signal":"datum.value==='c' ? [4,2] : [1,0]"},"opacity":{"value":1}}}}}}}},
{"data":{"name":"gs"},"mark":{"type":"square","clip":true,"size":40,"filled":true},"encoding":{"color":{"datum":"a","type":"nominal"}}},
{"data":{"name":"b5"},"mark":{"type":"line","clip":true,"strokeWidth":1.5},"encoding":{"color":{"datum":"b","type":"nominal"}}},
{"data":{"name":"b5"},"mark":{"type":"circle","clip":true,"size":50,"opacity":1},"encoding":{"color":{"datum":"b","type":"nominal"}}},
{"data":{"name":"t5"},"mark":{"type":"line","clip":true,"strokeWidth":1.2,"strokeDash":[4,2],"interpolate":"monotone"},"encoding":{"color":{"datum":"c","type":"nominal"}}}
]},
{"width":97,"height":1,"data":{"values":[]},"mark":"point","view":{"stroke":null}},
{"width":292,"height":201,"title":"Jt = 40.00,  E(t) − EGS = −194.0875J",
"encoding":{"x":{"field":"x","type":"quantitative","scale":{"domain":[-165,165],"nice":false,"zero":false},"axis":{"values":[-150,-100,-50,0,50,100,150],"title":"lattice sites"}},"y":{"field":"y","type":"quantitative","scale":{"domain":[0,3.28],"nice":false,"zero":false},"axis":{"values":[0,0.5,1,1.5,2,2.5,3],"format":".1f","title":null}}},
"layer":[
{"data":{"name":"gs"},"mark":{"type":"line","clip":true,"strokeWidth":1.2},"encoding":{"color":{"datum":"a","type":"nominal","scale":{"domain":["a","b","c"],"range":["rgba(255,0,0,0.35)","blue","green"]},"legend":{"title":null,"orient":"top-right","offset":8,"fillColor":"rgba(255,255,255,0.8)","strokeColor":"#cccccc","cornerRadius":4,"padding":9,"rowPadding":11,"symbolSize":400,"symbolStrokeWidth":1.5,"labelFont":"DejaVu Sans","labelFontSize":19,"labelOffset":35,"labelColor":"black","labelExpr":"datum.value==='a' ? '|ψGS,ⱼ|²' : datum.value==='b' ? '|ψⱼ(t)|²' : 'trap'","encode":{"symbols":{"update":{"shape":{"signal":"datum.value==='a' ? 'M-1.3,0H2.9M0.5,-0.3H1.1V0.3H0.5Z' : datum.value==='b' ? 'M-1.3,0H2.9M1.15,0A0.35,0.35,0,1,1,0.45,0A0.35,0.35,0,1,1,1.15,0Z' : 'M-1.3,0H2.9'"},"strokeDash":{"signal":"datum.value==='c' ? [4,2] : [1,0]"},"opacity":{"value":1}}}}}}}},
{"data":{"name":"gs"},"mark":{"type":"square","clip":true,"size":40,"filled":true},"encoding":{"color":{"datum":"a","type":"nominal"}}},
{"data":{"name":"b6"},"mark":{"type":"line","clip":true,"strokeWidth":1.5},"encoding":{"color":{"datum":"b","type":"nominal"}}},
{"data":{"name":"b6"},"mark":{"type":"circle","clip":true,"size":50,"opacity":1},"encoding":{"color":{"datum":"b","type":"nominal"}}},
{"data":{"name":"t6"},"mark":{"type":"line","clip":true,"strokeWidth":1.2,"strokeDash":[4,2],"interpolate":"monotone"},"encoding":{"color":{"datum":"c","type":"nominal"}}}
]}
],"spacing":0,"bounds":"flush","resolve":{"scale":{"color":"independent","x":"independent","y":"independent"},"legend":{"color":"independent"}}}
]
}
